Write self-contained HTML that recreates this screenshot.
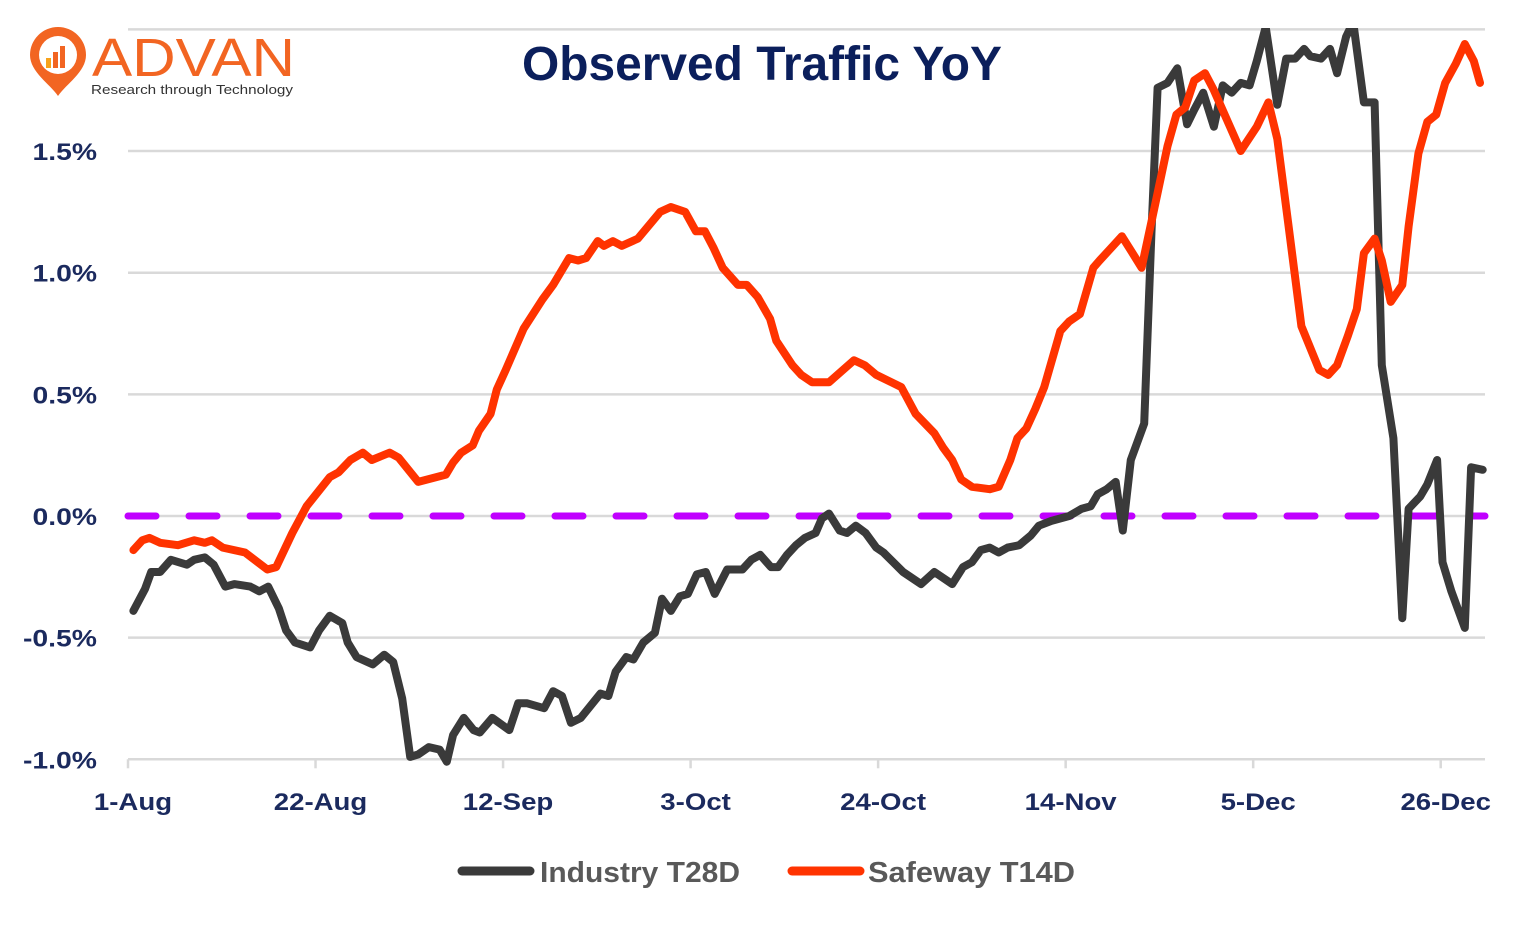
<!DOCTYPE html>
<html><head><meta charset="utf-8"><title>Observed Traffic YoY</title>
<style>
html,body{margin:0;padding:0;background:#fff;}
body{width:1525px;height:929px;overflow:hidden;font-family:"Liberation Sans",sans-serif;}
</style></head>
<body>
<svg id="chart" width="1525" height="929" viewBox="0 0 1525 929" xmlns="http://www.w3.org/2000/svg">
  <defs><clipPath id="plotclip"><rect x="110" y="28" width="1400" height="740"/></clipPath></defs>
  <g id="logo">
    <path d="M58,96 C50,84 30,72 30,55 A28,28 0 1 1 86,55 C86,72 66,84 58,96 Z" fill="#f26522"/>
    <circle cx="58" cy="55" r="19" fill="#fff"/>
    <rect x="46" y="58" width="5" height="10" fill="#f7a21b"/>
    <rect x="53" y="52" width="5" height="16" fill="#f26522"/>
    <rect x="60" y="46" width="5" height="22" fill="#f26522"/>
    <text x="92" y="76" textLength="203" lengthAdjust="spacingAndGlyphs" font-family="Liberation Sans, sans-serif" font-size="54" fill="#f26522">ADVAN</text>
    <text x="91" y="94" textLength="202" lengthAdjust="spacingAndGlyphs" font-family="Liberation Sans, sans-serif" font-size="13" fill="#333">Research through Technology</text>
  </g>
  <text x="762" y="80" text-anchor="middle" textLength="480" lengthAdjust="spacingAndGlyphs" font-family="Liberation Sans, sans-serif" font-weight="bold" font-size="48" fill="#0b1f5c">Observed Traffic YoY</text>
  <g id="grid"></g>
  <g id="yaxis"></g>
  <g id="xaxis"></g>
  <g id="series" clip-path="url(#plotclip)"></g>
  <g id="legend">
    <line x1="462" y1="871" x2="530" y2="871" stroke="#3a3a3a" stroke-width="9" stroke-linecap="round"/>
    <text x="540" y="882" textLength="200" lengthAdjust="spacingAndGlyphs" font-family="Liberation Sans, sans-serif" font-weight="bold" font-size="29" fill="#595959">Industry T28D</text>
    <line x1="792" y1="871" x2="860" y2="871" stroke="#ff3300" stroke-width="9" stroke-linecap="round"/>
    <text x="868" y="882" textLength="207" lengthAdjust="spacingAndGlyphs" font-family="Liberation Sans, sans-serif" font-weight="bold" font-size="29" fill="#595959">Safeway T14D</text>
  </g>
</svg>
<script>
const xTickLabels = ["1-Aug","22-Aug","12-Sep","3-Oct","24-Oct","14-Nov","5-Dec","26-Dec"];
const xTickDays = [0,21,42,63,84,105,126,147];
const yTicks = [-1.0,-0.5,0.0,0.5,1.0,1.5,2.0];
const yTickLabels = ["-1.0%","-0.5%","0.0%","0.5%","1.0%","1.5%",""];
const safewayDays = [0.6,1.6,2.4,3.6,5.6,7.4,8.6,9.4,10.6,13.1,15.6,16.6,18.4,20.0,22.6,23.6,24.9,26.3,27.3,29.3,30.3,32.5,35.6,36.4,37.3,38.6,39.3,40.6,41.3,42.3,44.3,46.4,47.6,49.4,50.4,51.3,52.6,53.3,54.3,55.3,57.1,59.6,60.8,62.4,63.6,64.6,65.6,66.6,68.3,69.3,70.5,71.9,72.6,74.4,75.4,76.6,78.5,81.3,82.5,83.8,86.6,88.2,90.3,91.3,92.3,93.3,94.5,96.5,97.5,98.8,99.6,100.6,101.6,102.6,104.4,105.4,106.6,108.1,108.8,110.3,111.3,112.5,113.5,114.9,116.4,117.4,118.4,119.4,120.6,121.6,124.6,126.4,127.7,128.7,129.9,131.4,133.4,134.4,135.4,136.6,137.6,138.4,139.6,140.4,141.4,142.7,143.4,144.5,145.5,146.5,147.5,148.7,149.7,150.7,151.4];
const safewayValues = [-0.14,-0.10,-0.09,-0.11,-0.12,-0.10,-0.11,-0.10,-0.13,-0.15,-0.22,-0.21,-0.07,0.04,0.16,0.18,0.23,0.26,0.23,0.26,0.24,0.14,0.17,0.22,0.26,0.29,0.35,0.42,0.52,0.60,0.77,0.89,0.95,1.06,1.05,1.06,1.13,1.11,1.13,1.11,1.14,1.25,1.27,1.25,1.17,1.17,1.10,1.02,0.95,0.95,0.90,0.81,0.72,0.62,0.58,0.55,0.55,0.64,0.62,0.58,0.53,0.42,0.34,0.28,0.23,0.15,0.12,0.11,0.12,0.23,0.32,0.36,0.44,0.53,0.76,0.80,0.83,1.02,1.05,1.11,1.15,1.08,1.02,1.26,1.52,1.65,1.68,1.79,1.82,1.75,1.50,1.60,1.70,1.55,1.21,0.78,0.60,0.58,0.62,0.74,0.85,1.08,1.14,1.05,0.88,0.95,1.19,1.49,1.62,1.65,1.78,1.86,1.94,1.87,1.78];
const industryDays = [0.6,1.9,2.6,3.6,4.8,6.6,7.4,8.6,9.6,10.9,11.9,13.7,14.7,15.7,16.9,17.7,18.7,20.4,21.4,22.6,24.0,24.6,25.6,27.4,28.7,29.7,30.7,31.6,32.5,33.7,34.9,35.7,36.4,37.6,38.7,39.4,40.8,42.7,43.7,44.7,46.6,47.6,48.6,49.6,50.7,52.9,53.8,54.6,55.8,56.6,57.7,59.0,59.8,60.8,61.8,62.7,63.7,64.7,65.7,67.1,68.8,69.8,70.8,72.0,72.8,73.8,74.8,75.8,77.0,77.7,78.5,79.7,80.5,81.5,82.6,83.8,84.6,86.8,88.8,90.3,92.3,93.5,94.5,95.5,96.5,97.5,98.5,99.8,101.1,102.0,103.4,105.4,106.8,107.8,108.6,109.6,110.6,111.4,112.3,113.8,114.6,115.3,116.4,117.5,118.6,119.4,120.4,121.6,122.6,123.6,124.6,125.6,126.4,127.4,128.7,129.7,130.7,131.7,132.4,133.6,134.6,135.4,136.4,137.2,138.4,139.6,140.4,141.7,142.7,143.4,144.7,145.5,146.6,147.2,148.2,149.7,150.4,151.7];
const industryValues = [-0.39,-0.30,-0.23,-0.23,-0.18,-0.20,-0.18,-0.17,-0.20,-0.29,-0.28,-0.29,-0.31,-0.29,-0.38,-0.47,-0.52,-0.54,-0.47,-0.41,-0.44,-0.52,-0.58,-0.61,-0.57,-0.60,-0.75,-0.99,-0.98,-0.95,-0.96,-1.01,-0.90,-0.83,-0.88,-0.89,-0.83,-0.88,-0.77,-0.77,-0.79,-0.72,-0.74,-0.85,-0.83,-0.73,-0.74,-0.64,-0.58,-0.59,-0.52,-0.48,-0.34,-0.39,-0.33,-0.32,-0.24,-0.23,-0.32,-0.22,-0.22,-0.18,-0.16,-0.21,-0.21,-0.16,-0.12,-0.09,-0.07,-0.01,0.01,-0.06,-0.07,-0.04,-0.07,-0.13,-0.15,-0.23,-0.28,-0.23,-0.28,-0.21,-0.19,-0.14,-0.13,-0.15,-0.13,-0.12,-0.08,-0.04,-0.02,0.00,0.03,0.04,0.09,0.11,0.14,-0.06,0.23,0.38,1.16,1.76,1.78,1.84,1.61,1.67,1.74,1.60,1.77,1.74,1.78,1.77,1.87,2.01,1.69,1.88,1.88,1.92,1.89,1.88,1.92,1.82,1.97,2.03,1.70,1.70,0.62,0.32,-0.42,0.03,0.08,0.13,0.23,-0.19,-0.31,-0.46,0.20,0.19];

const NS = "http://www.w3.org/2000/svg";
const X0 = 128, PX_PER_DAY = 8.93, Y0 = 516, PX_PER_PCT = 243.3;
function xScale(d){ return X0 + d * PX_PER_DAY; }
function yScale(v){ return Y0 - v * PX_PER_PCT; }
function mk(tag, attrs, parent){ const e = document.createElementNS(NS, tag); for (const k in attrs) e.setAttribute(k, attrs[k]); parent.appendChild(e); return e; }
function widen(t, f){ const w = t.getComputedTextLength(); t.setAttribute('textLength', (w * f).toFixed(1)); t.setAttribute('lengthAdjust', 'spacingAndGlyphs'); }

const grid = document.getElementById('grid');
const yaxis = document.getElementById('yaxis');
const xaxis = document.getElementById('xaxis');
const series = document.getElementById('series');

yTicks.forEach((v, i) => {
  const ln = mk('line', {x1: X0, x2: 1485, y1: yScale(v), y2: yScale(v), stroke: '#d9d9d9', 'stroke-width': 2.5}, grid);
  
  
  if (yTickLabels[i]) {
    const t = mk('text', {x: 97, y: yScale(v) + 9, 'text-anchor': 'end', 'font-family': 'Liberation Sans, sans-serif', 'font-weight': 'bold', 'font-size': 24, fill: '#1b2a5e'}, yaxis);
    t.textContent = yTickLabels[i];
    
    
    widen(t, 1.18);
  }
});
xTickDays.forEach((d, i) => {
  const tk = mk('line', {x1: xScale(d), x2: xScale(d), y1: yScale(-1.0), y2: yScale(-1.0) + 9, stroke: '#d9d9d9', 'stroke-width': 2.5}, xaxis);
  
  
  const t = mk('text', {x: xScale(d) + 5, y: 810, 'text-anchor': 'middle', 'font-family': 'Liberation Sans, sans-serif', 'font-weight': 'bold', 'font-size': 24, fill: '#1b2a5e'}, xaxis);
  t.textContent = xTickLabels[i];
  
  
  widen(t, 1.15);
});

const zl = mk('line', {x1: X0, x2: 1485, y1: yScale(0), y2: yScale(0), stroke: '#c000ff', 'stroke-width': 7, 'stroke-dasharray': '28 33', 'stroke-linecap': 'round'}, series);



function pathFrom(days, vals){ return days.map((d, i) => (i ? 'L' : 'M') + xScale(d).toFixed(1) + ',' + yScale(vals[i]).toFixed(1)).join(' '); }
const ind = mk('path', {d: pathFrom(industryDays, industryValues), fill: 'none', stroke: '#3a3a3a', 'stroke-width': 8, 'stroke-linejoin': 'round', 'stroke-linecap': 'round'}, series);


const sw = mk('path', {d: pathFrom(safewayDays, safewayValues), fill: 'none', stroke: '#ff3300', 'stroke-width': 8, 'stroke-linejoin': 'round', 'stroke-linecap': 'round'}, series);


</script>
</body></html>
